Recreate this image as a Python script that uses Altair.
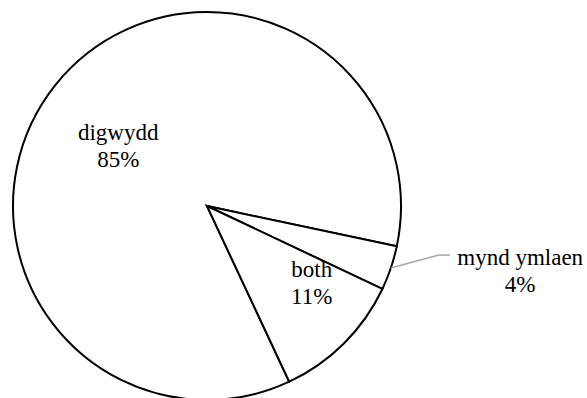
import math
import altair as alt
import pandas as pd

categories = ["digwydd", "mynd ymlaen", "both"]
values = [85.3, 3.7, 11.0]
order = [0, 1, 2]

total = sum(values)
df = pd.DataFrame({"cat": categories, "value": values, "order": order})
df["label"] = [f"{c}\n{round(v / total * 100):.0f}%" for c, v in zip(categories, values)]

cx, cy, R = 207, 206, 194
# first slice (digwydd) placed so the small slice starts just below 3 o'clock
start = math.radians(102) - values[0] / total * 2 * math.pi + 2 * math.pi
theta_scale = alt.Scale(domain=[0, total], range=[start, start + 2 * math.pi])

FONT = "Liberation Serif"
FS = 23

base = alt.Chart().transform_window(
    cum="sum(value)", sort=[alt.SortField("order")], frame=[None, 0]
).transform_calculate(mid="datum.cum - datum.value / 2")

arc = alt.Chart().mark_arc(
    outerRadius=R, fill="white", stroke="black", strokeWidth=2
).encode(
    theta=alt.Theta("value:Q", stack=True, scale=theta_scale),
    order=alt.Order("order:Q"),
    x=alt.value(cx),
    y=alt.value(cy),
)


def label(cat, radius, dx, dy):
    return base.transform_filter(alt.datum.cat == cat).mark_text(
        radius=radius, dx=dx, dy=dy, font=FONT, fontSize=FS, lineBreak="\n",
        lineHeight=27, align="center", baseline="middle", color="black",
    ).encode(
        theta=alt.Theta("mid:Q", scale=theta_scale),
        text="label:N",
        x=alt.value(cx),
        y=alt.value(cy),
    )


t1 = label("digwydd", 107, -5, -6)
t2 = label("mynd ymlaen", 320, 10, -50)
t3 = label("both", 130, 13, -28)

# leader line for the small slice
m = start + (values[0] + values[1] / 2) / total * 2 * math.pi
p0x, p0y = cx + R * math.sin(m), cy - R * math.cos(m)
ex, ey = p0x + 48, p0y - 13
fx = ex + 11

lead1 = alt.Chart().transform_filter(alt.datum.cat == "mynd ymlaen").mark_rule(
    color="#a6a6a6", strokeWidth=1.5
).encode(x=alt.value(p0x), y=alt.value(p0y), x2=alt.value(ex), y2=alt.value(ey))
lead2 = alt.Chart().transform_filter(alt.datum.cat == "mynd ymlaen").mark_rule(
    color="#a6a6a6", strokeWidth=1.5
).encode(x=alt.value(ex), y=alt.value(ey), x2=alt.value(fx), y2=alt.value(ey))

chart = alt.layer(arc, lead1, lead2, t1, t2, t3, data=df).properties(
    width=587, height=398, autosize="none", padding=0, background="white"
).configure_view(stroke=None)

chart.save("out.html", embed_options={"renderer": "svg", "actions": False})
